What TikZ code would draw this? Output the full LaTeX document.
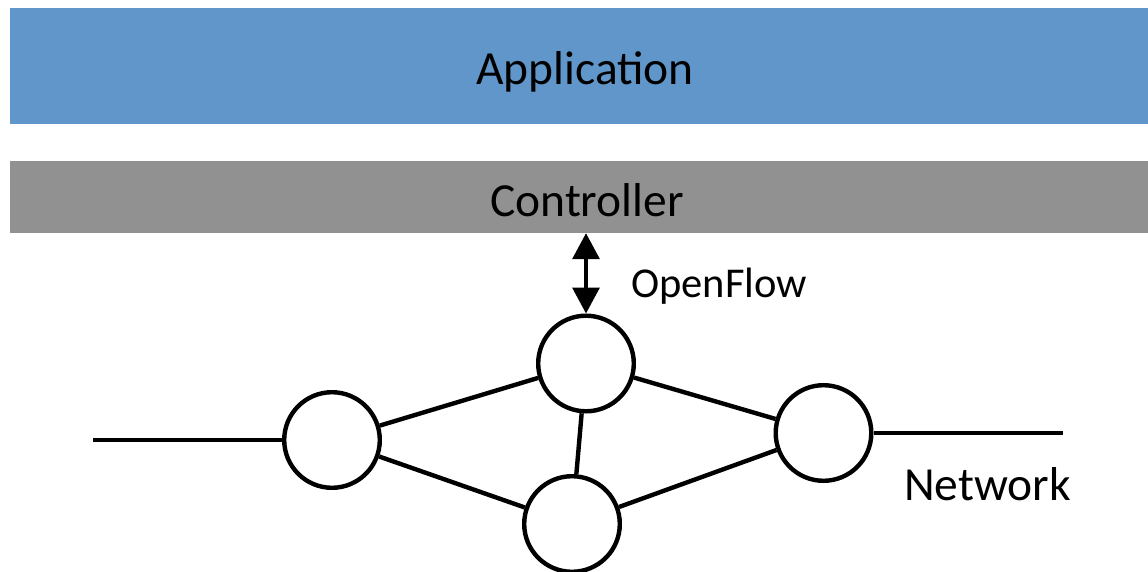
\documentclass[tikz,border=0pt]{standalone}
\usepackage{fontspec}
\setmainfont{Carlito}
\usetikzlibrary{arrows.meta}
\definecolor{appblue}{HTML}{6096C9}
\definecolor{ctrlgray}{HTML}{919191}
\tikzset{
  layer/.style={rectangle, inner sep=0pt, draw=none, minimum width=1138pt},
  switchnode/.style={circle, draw=black, line width=4.4pt, fill=white, minimum size=95.6pt, inner sep=0pt},
  link/.style={line width=4.4pt},
  lbl/.style={inner sep=0pt, text=black},
}
\begin{document}
\begin{tikzpicture}[x=1pt, y=-1pt]
  \useasboundingbox (0,0) rectangle (1148,572);

  % layers
  \node[layer, fill=appblue, minimum height=116pt] (app) at (579,66) {};
  \node[layer, fill=ctrlgray, minimum height=72pt] (ctrl) at (579,197) {};
  \node[lbl, anchor=base] (applbl) at (585,85) {\fontsize{47.5}{50}\selectfont Application};
  \node[lbl, anchor=base] (ctrllbl) at (587,217) {\fontsize{47.5}{50}\selectfont Controller};

  % switches
  \node[switchnode] (top) at (586,363.5) {};
  \node[switchnode] (left) at (332,440) {};
  \node[switchnode] (bottom) at (572,524) {};
  \node[switchnode] (right) at (823.5,433) {};

  % outer links
  \coordinate (inL) at (93,440);
  \coordinate (outR) at (1063,433);
  \draw[link] (inL) -- (left);
  \draw[link] (right) -- (outR);

  % internal links
  \draw[link] (left) -- (top);
  \draw[link] (left) -- (bottom);
  \draw[link] (top) -- (bottom);
  \draw[link] (top) -- (right);
  \draw[link] (bottom) -- (right);

  % OpenFlow channel
  \draw[line width=3.4pt, {Triangle[width=27pt,length=26pt]}-{Triangle[width=27pt,length=26pt]}]
    (top.north |- ctrl.south) -- (top.north);
  \node[lbl, anchor=base west] (oflbl) at (631,297) {\fontsize{42.5}{46}\selectfont OpenFlow};
  \node[lbl, anchor=base west] (netlbl) at (904,500) {\fontsize{47.5}{50}\selectfont Network};
\end{tikzpicture}
\end{document}
